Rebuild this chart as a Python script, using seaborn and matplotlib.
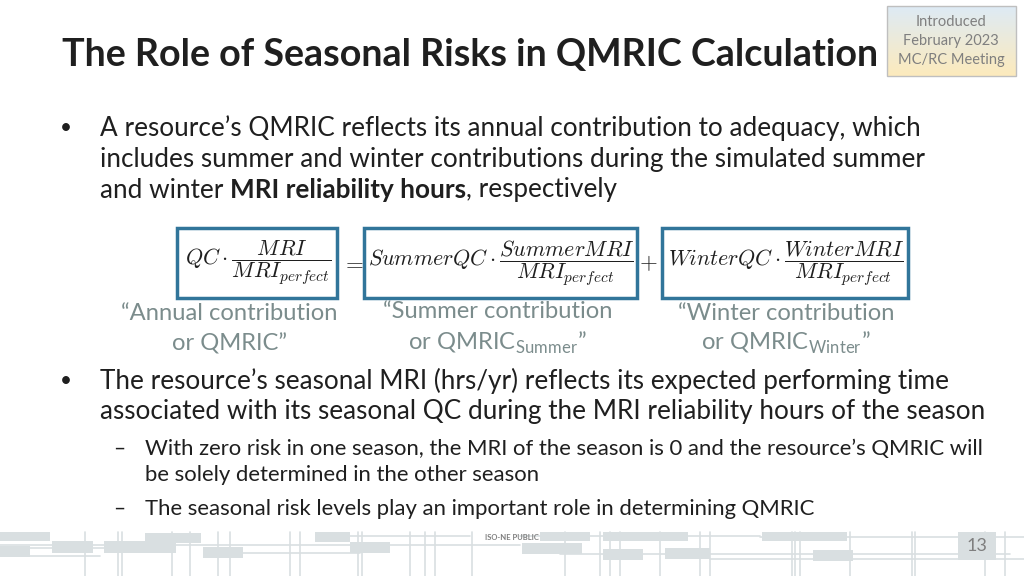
import matplotlib.pyplot as plt
import matplotlib.patches as mpatches
import numpy as np
import seaborn as sns

sns.set_theme(style="white")
plt.rcParams['font.family'] = ['Lato', 'DejaVu Sans']
plt.rcParams['mathtext.fontset'] = 'cm'

# slide text
title = "The Role of Seasonal Risks in QMRIC Calculation"
stamp = ["Introduced", "February 2023", "MC/RC Meeting"]
bullet1 = ["A resource\u2019s QMRIC reflects its annual contribution to adequacy, which",
           "includes summer and winter contributions during the simulated summer"]
bullet1_last = ["and winter ", "MRI reliability hours", ", respectively"]
bullet2 = ["The resource\u2019s seasonal MRI (hrs/yr) reflects its expected performing time",
           "associated with its seasonal QC during the MRI reliability hours of the season"]
subbullets = [["With zero risk in one season, the MRI of the season is 0 and the resource\u2019s QMRIC will",
               "be solely determined in the other season"],
              ["The seasonal risk levels play an important role in determining QMRIC"]]
terms = [r"$QC\cdot\dfrac{MRI}{MRI_{perfect}}$",
         r"$SummerQC\cdot\dfrac{SummerMRI}{MRI_{perfect}}$",
         r"$WinterQC\cdot\dfrac{WinterMRI}{MRI_{perfect}}$"]
term_labels = [["\u201cAnnual contribution", "or QMRIC\u201d"],
               ["\u201cSummer contribution", "or QMRIC$_{\\mathregular{Summer}}$\u201d"],
               ["\u201cWinter contribution", "or QMRIC$_{\\mathregular{Winter}}$\u201d"]]
page = "13"
footer = "ISO-NE PUBLIC"

dark = "#1f1f1f"
gray = "#7b8c8c"
teal = "#31759a"
deco = "#d9dfe1"

fig = plt.figure(figsize=(10.24, 5.76), dpi=100)
ax = fig.add_axes([0, 0, 1, 1])
ax.set_xlim(0, 1024)
ax.set_ylim(576, 0)
ax.axis("off")

# background circuit decoration
rects = [(0, 532, 50, 9), (145, 533, 56, 10), (52, 541, 41, 12), (104, 541, 72, 12),
         (0, 546, 30, 11), (203, 547, 40, 11), (315, 532, 35, 10), (350, 542, 40, 11),
         (540, 532, 50, 9), (522, 543, 60, 11), (603, 532, 85, 9), (603, 549, 40, 11),
         (665, 548, 45, 11), (762, 532, 85, 9), (813, 550, 40, 11), (958, 532, 38, 28)]
for x, y, w, h in rects:
    ax.add_patch(mpatches.Rectangle((x, y), w, h, color=deco, lw=0, zorder=0))
hlines = [(0, 135, 548), (0, 520, 545), (320, 470, 536), (520, 760, 536), (760, 1024, 537),
          (240, 360, 553), (560, 1010, 554), (30, 100, 556), (710, 1024, 559)]
for x0, x1, y in hlines:
    ax.plot([x0, x1], [y, y], color=deco, lw=1.2, zorder=0)
vlines = [85, 118, 122, 172, 190, 218, 230, 290, 300, 358, 362, 410, 425, 435, 472, 565,
          600, 610, 620, 660, 700, 710, 792, 795, 800, 850, 912, 915, 985, 1005]
for x in vlines:
    ax.plot([x, x], [532, 576], color=deco, lw=1.2, zorder=0)

# top right stamp
grad = np.linspace(0, 1, 50).reshape(-1, 1)
top = np.array([0.87, 0.92, 0.96])
bot = np.array([0.99, 0.92, 0.74])
img = top + (bot - top) * grad[..., None]
ax.imshow(img, extent=(887, 1016, 76, 6), aspect="auto", zorder=1)
ax.add_patch(mpatches.Rectangle((887, 6), 129, 70, fill=False, ec="#bfbfbf", lw=1, zorder=2))
for i, s in enumerate(stamp):
    ax.text(951, 22 + i * 19, s, ha="center", va="center", fontsize=10.5, color="#7f7f7f", zorder=3)

ax.set_xlim(0, 1024)
ax.set_ylim(576, 0)

# title
ax.text(62, 55, title, ha="left", va="center", fontsize=27.1, fontweight="bold", color=dark)

body = 18.8
ax.text(60, 128, "\u2022", ha="left", va="center", fontsize=15, color=dark)
for i, s in enumerate(bullet1):
    ax.text(100, 128 + 31 * i, s, ha="left", va="center", fontsize=body, color=dark)

fig.canvas.draw()
r = fig.canvas.get_renderer()
x = 100
for j, s in enumerate(bullet1_last):
    t = ax.text(x, 190, s, ha="left", va="center", fontsize=body, color=dark,
                fontweight="bold" if j == 1 else "normal")
    x += t.get_window_extent(r).width

# equation
boxes = [(177, 160), (364, 273), (662, 246)]
for (bx, bw), term in zip(boxes, terms):
    ax.add_patch(mpatches.Rectangle((bx, 228), bw, 70, fill=False, ec=teal, lw=2.5))
    ax.text(bx + bw / 2 + 1, 263, term, ha="center", va="center", fontsize=15.8, color=dark)
ax.text(352, 263, r"$=$", ha="center", va="center", fontsize=16.5, color=dark)
ax.text(648, 263, r"$+$", ha="center", va="center", fontsize=16.5, color=dark)

label_x = [229, 498, 786]
label_y = [[313, 344], [312, 343], [313, 343]]
for lx, ly, lab in zip(label_x, label_y, term_labels):
    for yy, s in zip(ly, lab):
        ax.text(lx, yy, s, ha="center", va="center", fontsize=17.1, color=gray)

ax.text(60, 381, "\u2022", ha="left", va="center", fontsize=15, color=dark)
for i, s in enumerate(bullet2):
    ax.text(100, 381 + 31 * i, s, ha="left", va="center", fontsize=body, color=dark)

sub_y = [[449, 475], [509]]
for lines, ys in zip(subbullets, sub_y):
    ax.text(113, ys[0], "\u2013", ha="left", va="center", fontsize=15, color=dark)
    for yy, s in zip(ys, lines):
        ax.text(145, yy, s, ha="left", va="center", fontsize=15.9, color=dark)

# footer
ax.text(512, 538, footer, ha="center", va="center", fontsize=5.5, color="#7f7f7f", fontweight="bold")
ax.text(977, 546, page, ha="center", va="center", fontsize=13, color="#7f7f7f")

fig.savefig("out.png", dpi=100)
